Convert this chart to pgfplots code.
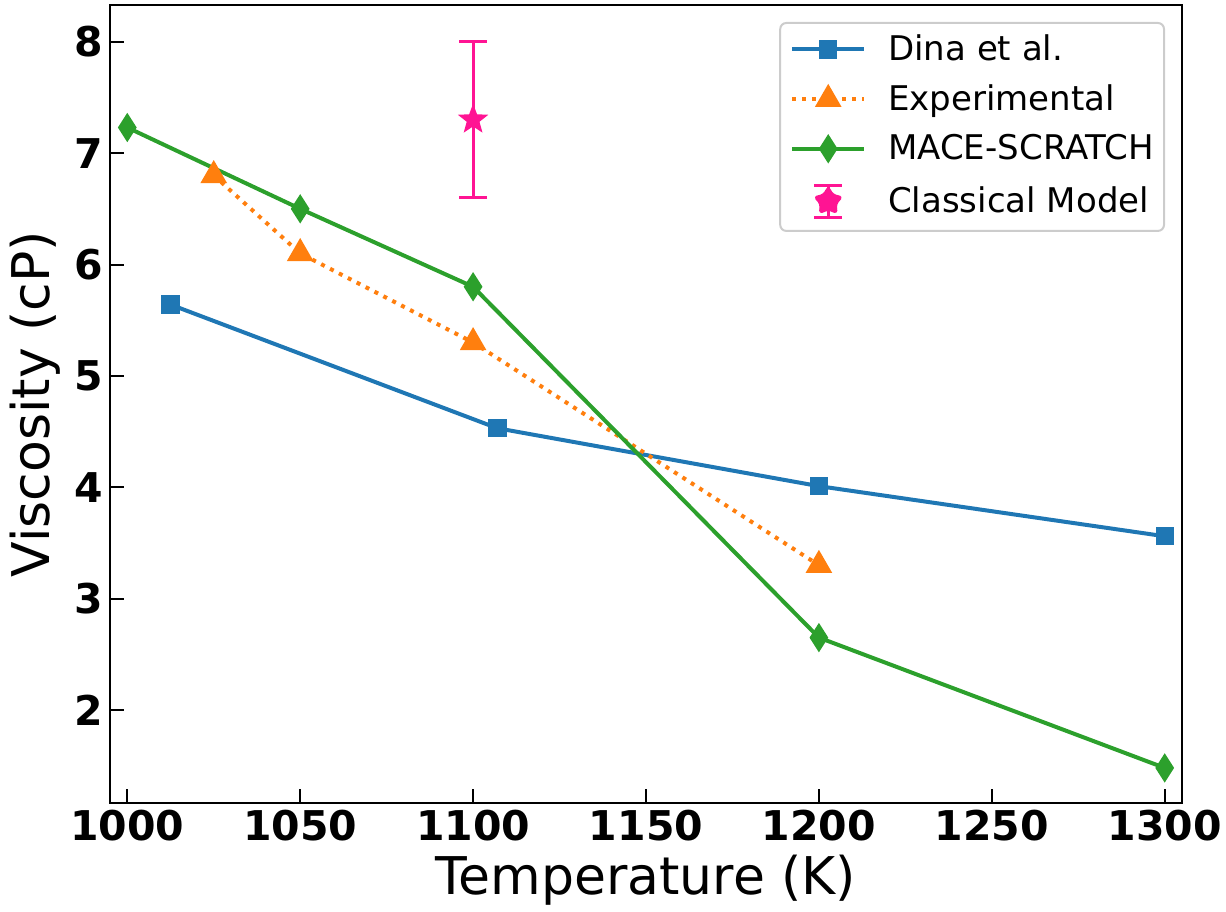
\documentclass[border=0pt]{standalone}
\usepackage{fontspec}
\setmainfont{DejaVu Sans}
\usepackage{pgfplots}
\pgfplotsset{compat=1.18}
\definecolor{tabblue}{HTML}{1F77B4}
\definecolor{taborange}{HTML}{FF7F0E}
\definecolor{tabgreen}{HTML}{2CA02C}
\definecolor{deeppink}{HTML}{FF1493}

% filled five-pointed star, like matplotlib's '*'
\pgfdeclareplotmark{fstar}{%
  \pgfpathmoveto{\pgfpointpolar{90}{\pgfplotmarksize}}%
  \pgfpathlineto{\pgfpointpolar{126}{0.42\pgfplotmarksize}}%
  \pgfpathlineto{\pgfpointpolar{162}{\pgfplotmarksize}}%
  \pgfpathlineto{\pgfpointpolar{198}{0.42\pgfplotmarksize}}%
  \pgfpathlineto{\pgfpointpolar{234}{\pgfplotmarksize}}%
  \pgfpathlineto{\pgfpointpolar{270}{0.42\pgfplotmarksize}}%
  \pgfpathlineto{\pgfpointpolar{306}{\pgfplotmarksize}}%
  \pgfpathlineto{\pgfpointpolar{342}{0.42\pgfplotmarksize}}%
  \pgfpathlineto{\pgfpointpolar{18}{\pgfplotmarksize}}%
  \pgfpathlineto{\pgfpointpolar{54}{0.42\pgfplotmarksize}}%
  \pgfpathclose
  \pgfusepathqfill}

\begin{document}
\begin{tikzpicture}
\begin{axis}[
  scale only axis,
  width=536pt, height=399pt,
  xmin=995, xmax=1305,
  ymin=1.165, ymax=8.33,
  xtick={1000,1050,...,1300},
  ytick={2,3,...,8},
  tick pos=left, tick align=inside,
  major tick length=7pt,
  every tick/.style={black, line width=1pt},
  axis line style={line width=1pt},
  /pgf/number format/assume math mode=true,
  /pgf/number format/1000 sep={},
  tick label style={font=\fontsize{20.5}{24}\selectfont\bfseries},
  xlabel={Temperature (K)},
  ylabel={Viscosity (cP)},
  label style={font=\fontsize{26}{30}\selectfont},
  legend cell align=left,
  legend style={at={(1,1)}, anchor=north east, xshift=-8.5pt, yshift=-8.5pt,
    font=\fontsize{17}{20}\selectfont, draw=black!20, line width=1pt,
    rounded corners=3pt, inner xsep=5pt, inner ysep=6pt, row sep=10.5pt,
    nodes={inner sep=0pt},
    /tikz/every odd column/.append style={column sep=11pt}},
  legend image code/.code={%
    \draw[mark repeat=2, mark phase=2] plot coordinates {(0pt,0pt)(18pt,0pt)(36pt,0pt)};},
]
\coordinate (bl) at (rel axis cs:0,0);
\coordinate (tr) at (rel axis cs:1,1);

\addplot[tabblue, line width=2pt, mark=square*, mark size=3.6pt, mark options={solid}]
  coordinates {(1012.5,5.64)(1107,4.53)(1200,4.01)(1300,3.56)};
\addlegendentry{Dina et al.}

\addplot[taborange, line width=2pt, dash pattern=on 2pt off 3pt, mark=triangle*, mark size=5.7pt, mark options={solid}]
  coordinates {(1025,6.80)(1050,6.10)(1100,5.30)(1200,3.30)};
\addlegendentry{Experimental}

\addplot[tabgreen, line width=2pt, mark=diamond*, mark size=5.5pt, mark options={solid, xscale=0.85}]
  coordinates {(1000,7.23)(1050,6.50)(1100,5.80)(1200,2.65)(1300,1.48)};
\addlegendentry{MACE-SCRATCH}

\addplot[deeppink, only marks, mark=fstar, mark size=8pt,
  legend image code/.code={%
    \draw[deeppink, line width=1.5pt] (18pt,-8pt) -- (18pt,8pt)
      (11pt,-8pt) -- (25pt,-8pt) (11pt,8pt) -- (25pt,8pt);
    \fill[deeppink] (18pt,0pt) +(90:8pt) -- +(126:3.4pt) -- +(162:8pt) -- +(198:3.4pt)
      -- +(234:8pt) -- +(270:3.4pt) -- +(306:8pt) -- +(342:3.4pt) -- +(18:8pt)
      -- +(54:3.4pt) -- cycle;},
  error bars/.cd, y dir=both, y explicit,
  error bar style={line width=1.5pt, deeppink},
  error mark options={rotate=90, mark size=7pt, line width=1.5pt, deeppink},
  ]
  coordinates {(1100,7.30) +- (0,0.70)};
\addlegendentry{Classical Model}
\end{axis}
\path (bl) ++(-55pt,-54pt) coordinate (p1);
\path (tr) ++(22pt,2.5pt) coordinate (p2);
\pgfresetboundingbox
\path (p1) rectangle (p2);
\end{tikzpicture}
\end{document}
